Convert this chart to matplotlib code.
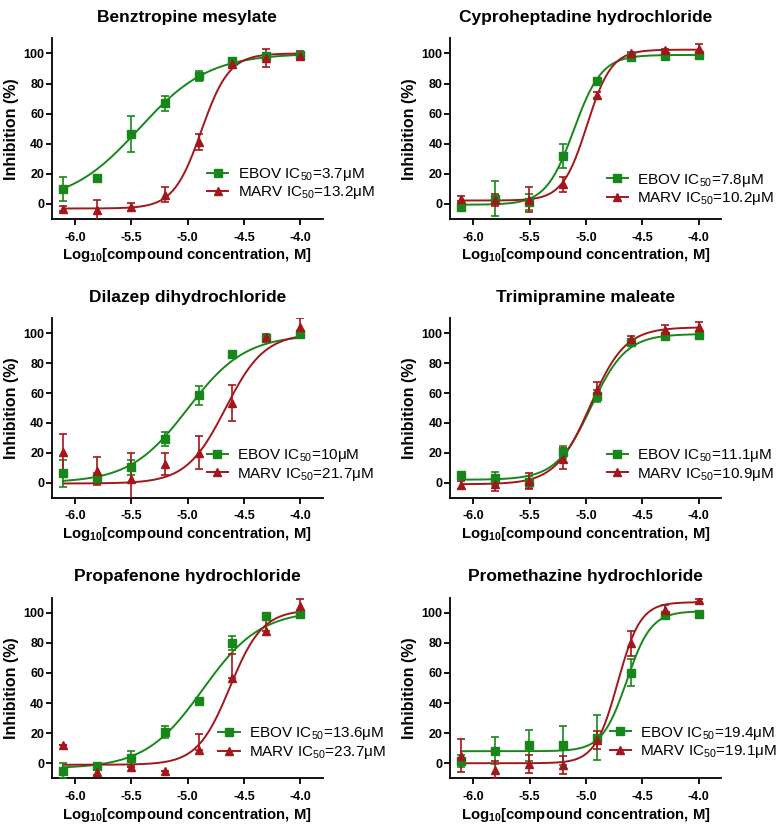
import numpy as np
import matplotlib
matplotlib.use("Agg")
import matplotlib.pyplot as plt
from matplotlib.lines import Line2D

plt.rcParams['font.family'] = ['Liberation Sans', 'DejaVu Sans']
plt.rcParams['mathtext.fontset'] = 'custom'
plt.rcParams['mathtext.rm'] = 'Liberation Sans'
plt.rcParams['mathtext.it'] = 'Liberation Sans:italic'
plt.rcParams['mathtext.bf'] = 'Liberation Sans:bold'

# ---------------- data ----------------
conc_uM = [0.78125, 1.5625, 3.125, 6.25, 12.5, 25, 50, 100]

compounds = ["Benztropine mesylate", "Cyproheptadine hydrochloride",
             "Dilazep dihydrochloride", "Trimipramine maleate",
             "Propafenone hydrochloride", "Promethazine hydrochloride"]

ebov_ic50_uM = [3.7, 7.8, 10, 11.1, 13.6, 19.4]
marv_ic50_uM = [13.2, 10.2, 21.7, 10.9, 23.7, 19.1]

ebov_mean = [
    [10.2, 17.5, 46.2, 66.9, 85.1, 94.9, 98.0, 99.0],
    [-2.0, 3.6, 1.3, 32.0, 81.8, 97.6, 98.4, 99.0],
    [6.2, 3.3, 10.4, 29.3, 58.4, 86.0, 97.1, 99.3],
    [4.9, 2.9, 0.3, 20.7, 57.8, 94.4, 98.4, 98.9],
    [-4.9, -1.6, 3.3, 21.0, 41.3, 80.0, 98.0, 98.9],
    [1.3, 8.4, 11.8, 11.8, 16.9, 60.0, 98.4, 99.1],
]
ebov_err = [
    [8, 2, 12, 5, 3.5, 2, 1.5, 1.5],
    [1, 11.5, 5, 8, 2, 1, 1, 1],
    [9, 3, 5, 4.5, 6.5, 2, 2, 2],
    [2, 4.5, 4, 4, 4, 1.5, 1.5, 1],
    [5, 1.5, 5, 4, 2, 4.5, 1.5, 1],
    [4, 9, 10, 13, 15, 9, 2, 1],
]
marv_mean = [
    [-3.1, -4.2, -2.0, 6.2, 41.3, 93.0, 97.0, 98.4],
    [3.6, 2.4, 2.9, 13.1, 72.4, 100.2, 102.0, 103.0],
    [20.4, 7.8, 2.2, 12.7, 20.0, 53.3, 97.3, 104.4],
    [-1.6, -0.7, 1.1, 16.2, 62.2, 96.2, 102.2, 104.0],
    [12.4, -6.0, -2.7, -5.3, 8.9, 56.7, 87.8, 104.4],
    [5.1, -4.2, -0.4, -0.9, 15.6, 79.6, 101.8, 108.4],
]
marv_err_hi = [
    [1.5, 7, 2.5, 5, 5.5, 2, 6, 3],
    [1.5, 4, 8.5, 5, 2, 1, 1, 3],
    [12, 9.5, 17.5, 7.5, 11, 12, 2.5, 6],
    [2.5, 5, 5.5, 7, 5.5, 2, 3, 3.5],
    [0, 1.5, 0, 0, 10.6, 15.7, 8, 4.7],
    [11, 6, 6, 6, 6, 8.5, 3, 1],
]
marv_err_lo = [
    [1.5, 7, 2.5, 5, 5.5, 2, 6, 3],
    [1.5, 4, 8.5, 5, 2, 1, 1, 3],
    [12, 9.5, 17.5, 7.5, 11, 12, 2.5, 6],
    [2.5, 5, 5.5, 7, 5.5, 2, 3, 3.5],
    [0, 1.5, 0, 0, 0, 0, 0, 4.7],
    [11, 6, 6, 6, 6, 8.5, 3, 1],
]

# four-parameter logistic fit parameters: bottom, top, logEC50, Hill slope
ebov_bottom = [0, -0.5, 0, 2, -3.5, 8]
ebov_top = [100, 99, 99, 99.5, 101.5, 101]
ebov_logec50 = [-5.432, -5.108, -5.0, -4.955, -4.866, -4.64]
ebov_hill = [1.4, 3.5, 1.7, 2.8, 1.7, 4.0]

marv_bottom = [-3, 2.3, -0.5, -1, -1, 0]
marv_top = [100, 102.5, 100, 104, 102, 107]
marv_logec50 = [-4.879, -4.991, -4.664, -4.963, -4.625, -4.719]
marv_hill = [3.5, 4.0, 2.5, 2.8, 3.0, 4.3]

x_ticks = [-6.0, -5.5, -5.0, -4.5, -4.0]
y_ticks = [0, 20, 40, 60, 80, 100]

# ---------------- layout ----------------
GREEN = '#17871a'
RED = '#a3161b'
col_x = [0.0665, 0.5792]
row_y = [0.7345, 0.3967, 0.0566]
row_h = [0.219, 0.2175, 0.219]
ax_w = 0.349
legend_anchor = [(0.573, 0.196), (0.577, 0.163), (0.571, 0.183),
                 (0.577, 0.183), (0.615, 0.194), (0.589, 0.198)]

def logistic(x, bottom, top, logec50, hill):
    return bottom + (top - bottom) / (1 + 10 ** ((logec50 - x) * hill))

fig = plt.figure(figsize=(7.77, 8.25), dpi=100)
logx = np.log10(np.array(conc_uM) * 1e-6)
xs = np.linspace(logx[0], logx[-1], 300)

for i, name in enumerate(compounds):
    r, c = divmod(i, 2)
    ax = fig.add_axes([col_x[c], row_y[r], ax_w, row_h[r]])
    # EBOV
    ax.plot(xs, logistic(xs, ebov_bottom[i], ebov_top[i], ebov_logec50[i], ebov_hill[i]),
            color=GREEN, lw=1.4, zorder=2)
    ax.errorbar(logx, ebov_mean[i], yerr=ebov_err[i], fmt='s', color=GREEN,
                ms=5.5, capsize=3, elinewidth=1.2, capthick=1.2, zorder=3)
    # MARV
    ax.plot(xs, logistic(xs, marv_bottom[i], marv_top[i], marv_logec50[i], marv_hill[i]),
            color=RED, lw=1.4, zorder=2)
    ax.errorbar(logx, marv_mean[i], yerr=[marv_err_lo[i], marv_err_hi[i]], fmt='^',
                color=RED, ms=5.5, capsize=3, elinewidth=1.2, capthick=1.2, zorder=3)

    ax.set_xlim(-6.207, -3.8)
    ax.set_ylim(-10, 110)
    ax.set_xticks(x_ticks)
    ax.set_xticklabels([f"{t:.1f}" for t in x_ticks])
    ax.set_yticks(y_ticks)
    for s in ['top', 'right']:
        ax.spines[s].set_visible(False)
    for s in ['left', 'bottom']:
        ax.spines[s].set_linewidth(1.3)
    ax.tick_params(length=4, width=1.3, labelsize=9)
    ax.tick_params(axis='x', pad=5)
    ax.tick_params(axis='y', pad=1.5)
    for lab in ax.get_xticklabels() + ax.get_yticklabels():
        lab.set_fontweight('bold')
    ax.set_title(name, fontsize=12.5, fontweight='bold', pad=12)
    ax.set_ylabel("Inhibition (%)", fontsize=11.5, fontweight='bold', labelpad=3)
    ax.set_xlabel(r"$\mathbf{Log_{10}}$[compound concentration, M]", fontsize=10.7,
                  fontweight='bold', labelpad=2)

    handles = [Line2D([], [], color=GREEN, marker='s', ms=5.5, lw=1.4),
               Line2D([], [], color=RED, marker='^', ms=5.5, lw=1.4)]
    labels = [f"EBOV IC$_{{50}}$={ebov_ic50_uM[i]:g}\u03bcM",
              f"MARV IC$_{{50}}$={marv_ic50_uM[i]:g}\u03bcM"]
    ax.legend(handles, labels, loc='center left', bbox_to_anchor=legend_anchor[i],
              frameon=False, fontsize=11, handlelength=1.4, handletextpad=0.6,
              borderpad=0, borderaxespad=0, labelspacing=0.1)

fig.savefig("out.png", dpi=100)
